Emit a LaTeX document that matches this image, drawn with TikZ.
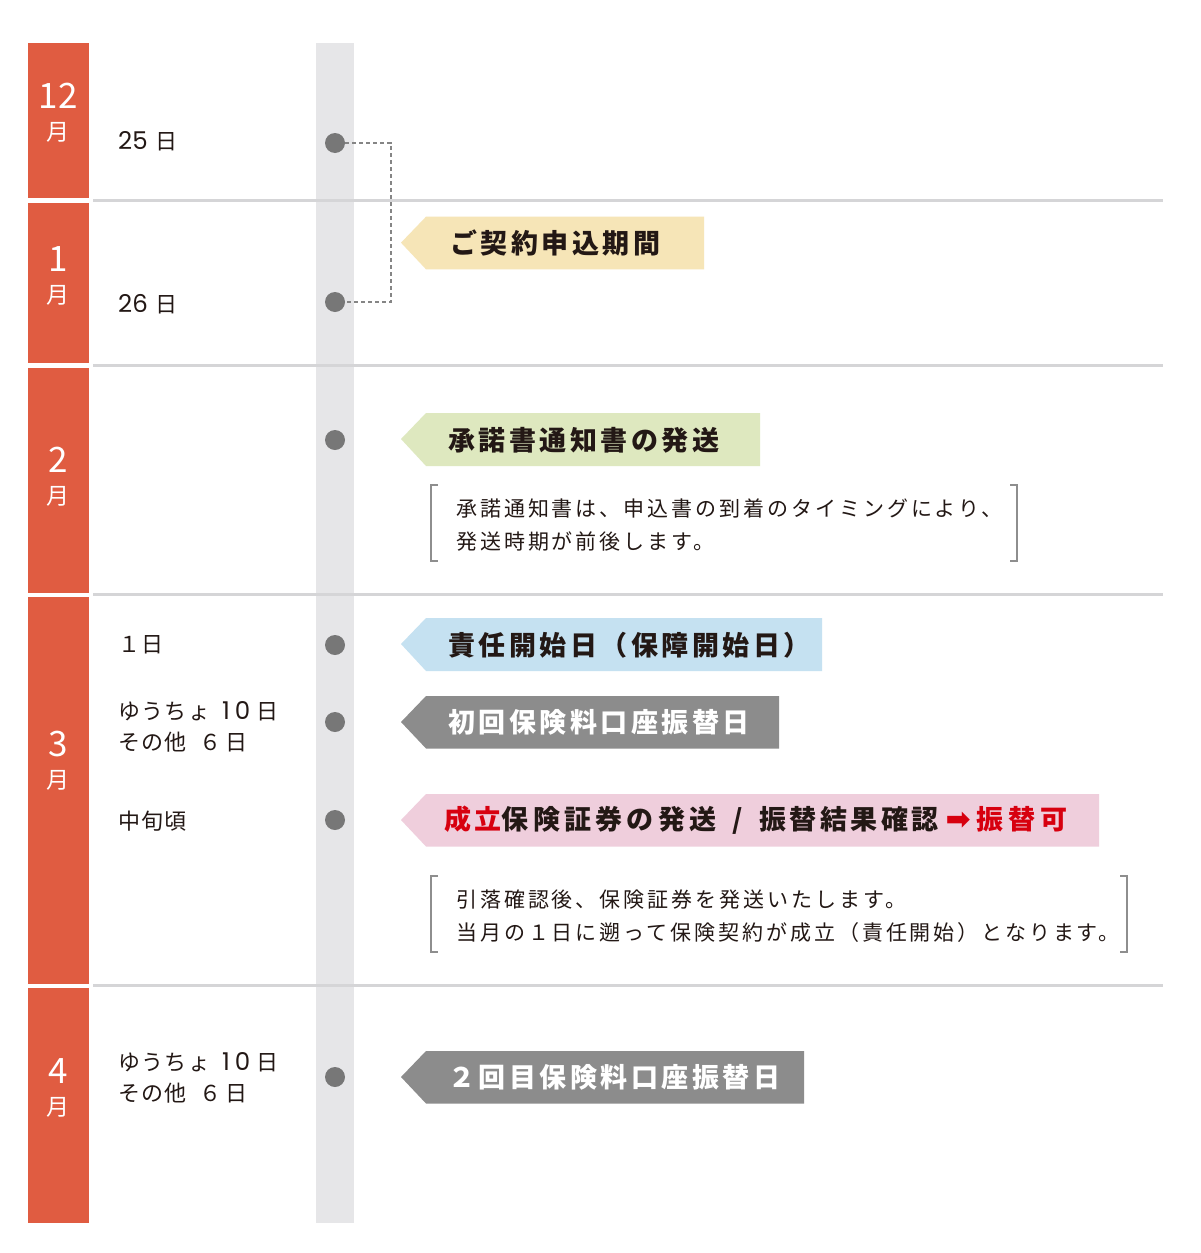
\documentclass[tikz,border=0pt]{standalone}
\usepackage{fontspec}
\setmainfont{Noto Sans CJK JP}
\newfontfamily\jpflag[LetterSpace=13]{Noto Sans CJK JP}
\newfontfamily\jpnote[LetterSpace=14]{Noto Sans CJK JP}
\newfontfamily\jplabel[LetterSpace=6]{Noto Sans CJK JP}
\newfontfamily\digitfont{Poppins}
\newfontfamily\arrowfont{DejaVu Sans}
\newcommand\dg[1]{{\digitfont\fontsize{24.5}{24}\selectfont #1}}
\definecolor{monthred}{HTML}{E05C41}
\definecolor{colgray}{HTML}{E6E6E8}
\definecolor{sepgray}{HTML}{D5D5D7}
\definecolor{dotgray}{HTML}{777777}
\definecolor{flagyellow}{HTML}{F6E5B7}
\definecolor{flaggreen}{HTML}{DEE8BF}
\definecolor{flagblue}{HTML}{C5E1F1}
\definecolor{flaggray}{HTML}{8C8C8C}
\definecolor{flagpink}{HTML}{EFCEDC}
\definecolor{txtred}{HTML}{D7000F}
\definecolor{txtdark}{HTML}{231815}
\definecolor{brgray}{HTML}{8E8E8E}
\tikzset{
  monthbox/.style={fill=monthred, inner sep=0pt, minimum width=60.5pt, anchor=north west},
  monthnum/.style={text=white, font=\fontsize{35}{35}\selectfont, inner sep=0pt},
  monthkanji/.style={text=white, font=\fontsize{23}{23}\selectfont, inner sep=0pt},
  daylabel/.style={text=txtdark, font=\jplabel\fontsize{22}{31}\selectfont, anchor=west, inner sep=0pt, align=left},
  dotnode/.style={circle, fill=dotgray, minimum size=20pt, inner sep=0pt},
  sepline/.style={draw=sepgray, line width=3pt},
  dashline/.style={draw=dotgray!90, line width=2pt, dash pattern=on 4pt off 3pt},
  flagtext/.style={font=\jpflag\bfseries\fontsize{27}{27}\selectfont, anchor=west, inner sep=0pt, text=txtdark},
  notetext/.style={font=\jpnote\fontsize{21}{33}\selectfont, anchor=north west, inner sep=0pt, text=txtdark, align=left},
  bracket/.style={draw=brgray, line width=2pt},
}
\newcommand\myflag[4]{%
  \fill[#4] (401,#1+26) -- (426,#1) -- (#2,#1) -- (#2,#1+#3) -- (426,#1+#3) -- cycle;}
\begin{document}
\begin{tikzpicture}[x=1pt,y=-1pt]
\useasboundingbox[fill=white] (0,0) rectangle (1200,1253);
% timeline column
\fill[colgray] (316,43) rectangle (354,1223);
% month blocks
\node[monthbox, minimum height=155pt] (b12) at (28,43) {};
\node[monthbox, minimum height=160.5pt] (b1) at (28,202.3) {};
\node[monthbox, minimum height=225pt] (b2) at (28,367.3) {};
\node[monthbox, minimum height=387pt] (b3) at (28,596.5) {};
\node[monthbox, minimum height=235pt] (b4) at (28,988) {};
\node[monthnum] (n12) at (58,96) {12};
\node[monthkanji] (k12) at (58,132) {月};
\node[monthnum] (n1) at (58,259) {1};
\node[monthkanji] (k1) at (58,295) {月};
\node[monthnum] (n2) at (58,460) {2};
\node[monthkanji] (k2) at (58,496) {月};
\node[monthnum] (n3) at (58,744) {3};
\node[monthkanji] (k3) at (58,780) {月};
\node[monthnum] (n4) at (58,1071) {4};
\node[monthkanji] (k4) at (58,1107) {月};
% separators
\draw[sepline] (93,200) -- (1163,200);
\draw[sepline] (93,365) -- (1163,365);
\draw[sepline] (93,594.5) -- (1163,594.5);
\draw[sepline] (93,985.5) -- (1163,985.5);
% day labels
\node[daylabel] (l1) at (118,141) {\dg{25}\hspace{8pt}日};
\node[daylabel] (l2) at (118,304) {\dg{26}\hspace{8pt}日};
\node[daylabel] (l3) at (118,645) {１日};
\node[daylabel] (l4) at (118,727) {ゆうちょ\hspace{12pt}\dg{1}\hspace{5pt}\dg{0}\hspace{6pt}日\\その他\hspace{6pt} ６\hspace{4pt}日};
\node[daylabel] (l5) at (118,821) {中旬頃};
\node[daylabel] (l6) at (118,1078) {ゆうちょ\hspace{12pt}\dg{1}\hspace{5pt}\dg{0}\hspace{6pt}日\\その他\hspace{6pt} ６\hspace{4pt}日};
% dots
\node[dotnode] (d1) at (335,143) {};
\node[dotnode] (d2) at (335,302) {};
\node[dotnode] (d3) at (335,440) {};
\node[dotnode] (d4) at (335,645) {};
\node[dotnode] (d5) at (335,722) {};
\node[dotnode] (d6) at (335,820) {};
\node[dotnode] (d7) at (335,1077) {};
% dashed bracket
\coordinate (c1) at (391,143);
\coordinate (c2) at (391,302);
\draw[dashline] (d1.east) -- (c1) -- (c2) -- (d2.east);
% flags
\myflag{216.7}{704}{52.6}{flagyellow}
\node[flagtext] (f1) at (450,243) {ご契約申込期間};
\myflag{413}{760}{53}{flaggreen}
\node[flagtext] (f2) at (448,440) {承諾書通知書の発送};
\myflag{618}{822}{53}{flagblue}
\node[flagtext] (f3) at (448,645) {責任開始日（保障開始日）};
\myflag{696}{779}{52.5}{flaggray}
\node[flagtext, text=white] (f4) at (448,722) {初回保険料口座振替日};
\myflag{794}{1099}{52.5}{flagpink}
\node[flagtext] (f5) at (444,820) {\textcolor{txtred}{成立}\addfontfeature{LetterSpace=16}保険証券の発送\hspace{16pt}/\hspace{16pt}\addfontfeature{LetterSpace=13}振替結果確認\hspace{7pt}\textcolor{txtred}{{\arrowfont\fontsize{30}{30}\selectfont ➡}\hspace{6pt}\addfontfeature{LetterSpace=18}振替可}};
\myflag{1051}{804}{52.5}{flaggray}
\node[flagtext, text=white] (f6) at (448,1077) {２回目保険料口座振替日};
% note 1
\draw[bracket] (438,485) -- (431,485) -- (431,561) -- (438,561);
\draw[bracket] (1010,485) -- (1017,485) -- (1017,561) -- (1010,561);
\node[notetext] (t1) at (456,499) {承諾通知書は、申込書の到着のタイミングにより、\\発送時期が前後します。};
% note 2
\draw[bracket] (438,876) -- (431,876) -- (431,952) -- (438,952);
\draw[bracket] (1120,876) -- (1127,876) -- (1127,952) -- (1120,952);
\node[notetext] (t2) at (456,890) {引落確認後、保険証券を発送いたします。\\当月の１日に遡って保険契約が成立（責任開始）となります。};
\end{tikzpicture}
\end{document}
